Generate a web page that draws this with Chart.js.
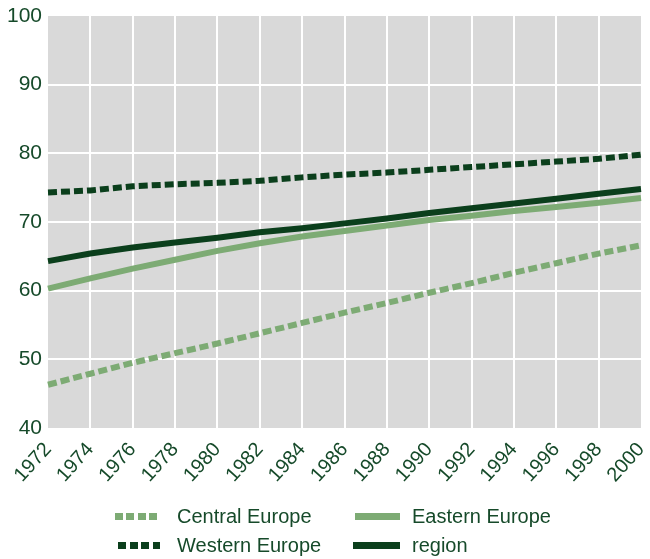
<!DOCTYPE html>
<html>
<head>
<meta charset="utf-8">
<script src="https://cdn.jsdelivr.net/npm/chart.js@4/dist/chart.umd.min.js"></script>
<style>
  body { margin: 0; background: #fff; font-family: "Liberation Sans", Arial, sans-serif; }
  #wrap { position: relative; width: 650px; height: 559px; }
  #box { position: absolute; left: 0; top: 0; width: 650px; height: 495px; }
  #legend { position: absolute; left: 0; top: 0; width: 650px; height: 559px; color: #164a2a; font-size: 20px; }
  .swatch { position: absolute; height: 7px; }
  .txt { position: absolute; line-height: 20px; white-space: nowrap; }
</style>
</head>
<body>
<div id="wrap">
  <div id="box"><canvas id="myChart"></canvas></div>
  <div id="legend"></div>
</div>
<script>
const ctx = document.getElementById("myChart");

const years = ["1972", "1974", "1976", "1978", "1980", "1982", "1984", "1986",
  "1988", "1990", "1992", "1994", "1996", "1998", "2000"];

const centralEurope = [46.3, 47.9, 49.5, 50.9, 52.3, 53.8, 55.3, 56.8, 58.2, 59.7, 61.1, 62.6, 64.0, 65.4, 66.6];
const easternEurope = [60.3, 61.8, 63.2, 64.5, 65.8, 66.9, 67.9, 68.7, 69.5, 70.3, 70.9, 71.6, 72.2, 72.8, 73.5];
const westernEurope = [74.3, 74.6, 75.2, 75.5, 75.7, 76.0, 76.5, 76.9, 77.2, 77.6, 78.0, 78.4, 78.8, 79.2, 79.8];
const region = [64.3, 65.4, 66.3, 67.0, 67.7, 68.5, 69.1, 69.8, 70.5, 71.3, 72.0, 72.7, 73.4, 74.1, 74.8];

const yTicks = [40, 50, 60, 70, 80, 90, 100];

const light = "#7dab74";
const dark = "#0b3f1c";
const textColor = "#164a2a";

const series = [
  { label: "Central Europe", data: centralEurope, color: light, dash: [9, 4] },
  { label: "Eastern Europe", data: easternEurope, color: light, dash: [] },
  { label: "Western Europe", data: westernEurope, color: dark, dash: [9, 4] },
  { label: "region", data: region, color: dark, dash: [] },
];

// grey panel behind the plot
const panelBg = {
  id: "panelBg",
  beforeDraw(chart) {
    const a = chart.chartArea;
    const c = chart.ctx;
    c.save();
    c.fillStyle = "#d9d9d9";
    c.fillRect(a.left, a.top, a.right - a.left, a.bottom - a.top);
    c.restore();
  },
};

const edgeless = (n) => (c) => (c.index === 0 || c.index === n - 1 ? "rgba(0,0,0,0)" : "#ffffff");

const myChart = new Chart(ctx, {
  type: "line",
  data: {
    labels: years,
    datasets: series.map((s) => ({
      label: s.label,
      data: s.data,
      borderColor: s.color,
      borderDash: s.dash,
      borderWidth: 6,
      borderCapStyle: "butt",
      pointRadius: 0,
      tension: 0,
      fill: false,
    })),
  },
  options: {
    responsive: true,
    maintainAspectRatio: false,
    animation: false,
    layout: { padding: { top: 16, right: 9, left: 0, bottom: 0 } },
    plugins: {
      legend: { display: false },
      tooltip: { enabled: false },
    },
    scales: {
      x: {
        offset: false,
        border: { display: false },
        grid: { color: edgeless(years.length), lineWidth: 2, drawTicks: false },
        ticks: {
          color: textColor,
          font: { family: "Liberation Sans", size: 20 },
          autoSkip: false,
          minRotation: 48,
          maxRotation: 48,
          padding: 10,
        },
        afterFit: (s) => {
          s.height = 67;
          s.paddingLeft = 0;
          s.paddingRight = 0;
        },
      },
      y: {
        min: 40,
        max: 100,
        border: { display: false },
        grid: { color: edgeless(yTicks.length), lineWidth: 2, drawTicks: false },
        afterBuildTicks: (s) => { s.ticks = yTicks.map((v) => ({ value: v })); },
        ticks: {
          color: textColor,
          font: { family: "Liberation Sans", size: 21 },
          padding: 6,
        },
        afterFit: (s) => {
          s.width = 48;
          s.paddingTop = 0;
          s.paddingBottom = 0;
        },
      },
    },
  },
  plugins: [panelBg],
});

// two-column legend below the chart
const legendEl = document.getElementById("legend");
const spots = [
  { sx: 115, sw: 43, tx: 177, y: 516 },
  { sx: 355, sw: 45, tx: 412, y: 516 },
  { sx: 118, sw: 42, tx: 177, y: 545 },
  { sx: 353, sw: 47, tx: 412, y: 545 },
];
series.forEach((s, i) => {
  const p = spots[i];
  const sw = document.createElement("span");
  sw.className = "swatch";
  sw.style.left = p.sx + "px";
  sw.style.top = p.y - 3 + "px";
  sw.style.width = p.sw + "px";
  sw.style.background = s.dash.length
    ? `repeating-linear-gradient(90deg, ${s.color} 0 8px, transparent 8px 11.5px)`
    : s.color;
  const txt = document.createElement("span");
  txt.className = "txt";
  txt.style.left = p.tx + "px";
  txt.style.top = p.y - 10 + "px";
  txt.textContent = s.label;
  legendEl.appendChild(sw);
  legendEl.appendChild(txt);
});
</script>
</body>
</html>
